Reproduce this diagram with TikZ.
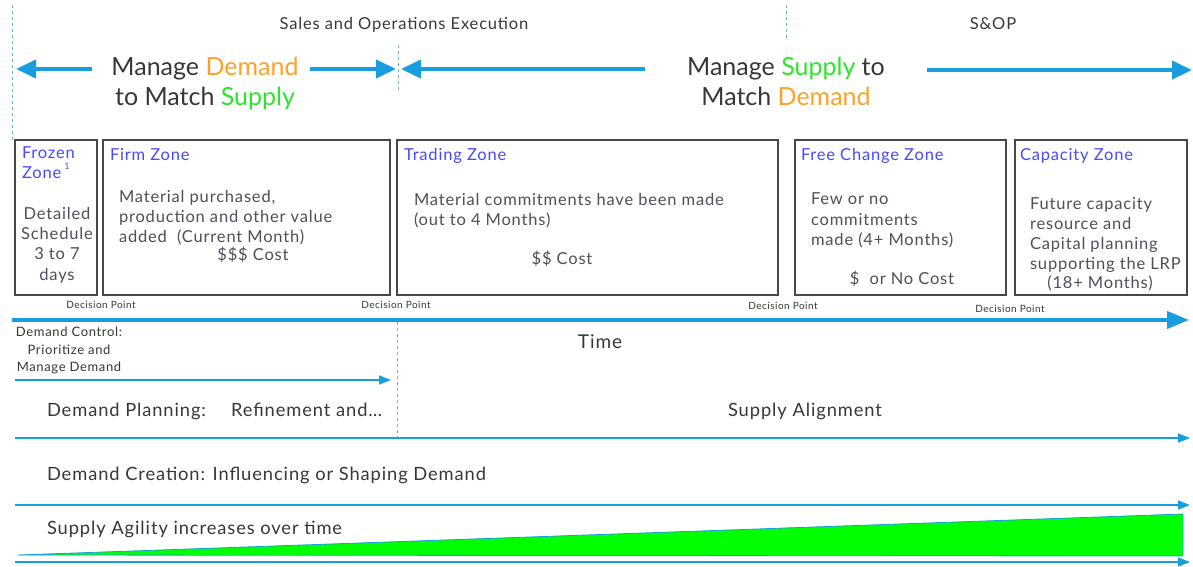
\documentclass[tikz,border=0pt]{standalone}
\usepackage{fontspec}
\setmainfont{Lato}[LetterSpace=5]
\newfontfamily\titlefont{Lato}
\usetikzlibrary{arrows.meta}

\definecolor{arrowblue}{RGB}{24,157,222}
\definecolor{dashblue}{RGB}{95,182,235}
\definecolor{zoneblue}{RGB}{72,72,255}
\definecolor{bodygray}{RGB}{78,78,92}
\definecolor{textgray}{RGB}{55,55,55}
\definecolor{demandorange}{RGB}{255,160,40}
\definecolor{supplygreen}{RGB}{45,228,45}
\definecolor{agilitygreen}{RGB}{0,255,0}
\definecolor{boxgray}{RGB}{72,72,72}

\begin{document}
\begin{tikzpicture}[x=1pt,y=-1pt,
  every node/.style={inner sep=0pt, outer sep=0pt},
  guide/.style={draw=dashblue, line width=1pt, dash pattern=on 3pt off 3pt},
  bigarrow/.style={draw=arrowblue, line width=4pt, -{Triangle[length=20pt,width=18pt]}},
  thinarrow/.style={draw=arrowblue, line width=1.6pt, -{Triangle[length=12pt,width=9pt]}},
  zonebox/.style={draw=boxgray, line width=1.6pt, anchor=north west},
  zonetitle/.style={text=zoneblue, font=\fontsize{16.5}{20}\selectfont, anchor=mid west},
  zonebody/.style={text=bodygray, font=\fontsize{16.5}{20.3}\selectfont},
  headtext/.style={text=textgray, font=\fontsize{16.5}{18}\selectfont, anchor=mid},
  bigtitle/.style={text=textgray, font=\titlefont\fontsize{25}{30}\selectfont, align=center, anchor=north},
  decision/.style={text=textgray, font=\fontsize{10}{10}\selectfont, anchor=mid},
  lanetext/.style={text=textgray, font=\fontsize{18.3}{20}\selectfont, anchor=mid west},
]
\useasboundingbox (0,0) rectangle (1193,567);

% vertical dashed guides
\coordinate (g1a) at (12,5);    \coordinate (g1b) at (12,140);
\coordinate (g2a) at (398,45);  \coordinate (g2b) at (398,90);
\coordinate (g3a) at (786,5);   \coordinate (g3b) at (786,38);
\coordinate (g4a) at (397,322); \coordinate (g4b) at (397,442);
\draw[guide] (g1a) -- (g1b);
\draw[guide] (g2a) -- (g2b);
\draw[guide] (g3a) -- (g3b);
\draw[guide] (g4a) -- (g4b);

% headings
\node[headtext] (soe) at (404,27) {Sales and Operations Execution};
\node[headtext] (sop) at (993,27) {S\&OP};

% manage demand / manage supply banners
\node[bigtitle] (mdtitle) at (205,57) {Manage \textcolor{demandorange}{Demand}\\to Match \textcolor{supplygreen}{Supply}};
\node[bigtitle] (mstitle) at (786,57) {Manage \textcolor{supplygreen}{Supply} to\\Match \textcolor{demandorange}{Demand}};

\coordinate (a1s) at (92,69);   \coordinate (a1e) at (16,69);
\coordinate (a2s) at (310,69);  \coordinate (a2e) at (396,69);
\coordinate (a3s) at (645,69);  \coordinate (a3e) at (401,69);
\coordinate (a4s) at (927,70);  \coordinate (a4e) at (1192,70);
\draw[bigarrow] (a1s) -- (a1e);
\draw[bigarrow] (a2s) -- (a2e);
\draw[bigarrow] (a3s) -- (a3e);
\draw[bigarrow] (a4s) -- (a4e);

% zones
\node[zonebox, minimum width=82pt,  minimum height=155pt] (frozen)   at (15,140)   {};
\node[zonebox, minimum width=287pt, minimum height=155pt] (firm)     at (103,140)  {};
\node[zonebox, minimum width=381pt, minimum height=155pt] (trading)  at (397,140)  {};
\node[zonebox, minimum width=211pt, minimum height=155pt] (free)     at (795,140)  {};
\node[zonebox, minimum width=172pt, minimum height=155pt] (capacity) at (1015,140) {};

\node[zonetitle] (frozenT1) at (22,156) {Frozen};
\node[zonetitle] (frozenT2) at (22,176) {Zone\raisebox{9pt}{\fontsize{9}{9}\selectfont\,\,1}};
\node[zonebody, align=center, anchor=north] (frozenB) at (57,207) {Detailed\\Schedule\\3 to 7\\days};

\node[zonetitle] (firmT) at (110,158) {Firm Zone};
\node[zonebody, align=left, anchor=north west] (firmB) at (119,190) {Material purchased,\\production and other value\\added\ \ (Current Month)};
\node[zonebody, anchor=mid] (firmC) at (253,258) {\$\$\$ Cost};

\node[zonetitle] (tradingT) at (404,158) {Trading Zone};
\node[zonebody, align=left, anchor=north west] (tradingB) at (414,193) {Material commitments have been made\\(out to 4 Months)};
\node[zonebody, anchor=mid] (tradingC) at (562,262) {\$\$ Cost};

\node[zonetitle] (freeT) at (801,158) {Free Change Zone};
\node[zonebody, align=left, anchor=north west] (freeB) at (811,193) {Few or no\\commitments\\made (4+ Months)};
\node[zonebody, anchor=mid] (freeC) at (902,282) {\$\ \ or No Cost};

\node[zonetitle] (capacityT) at (1020,158) {Capacity Zone};
\node[zonebody, align=left, anchor=north west] (capacityB) at (1030,197) {Future capacity\\resource and\\Capital planning\\supporting the LRP};
\node[zonebody, anchor=mid] (capacityM) at (1100,286) {(18+ Months)};

% decision points
\node[decision] (dp1) at (101,306) {Decision Point};
\node[decision] (dp2) at (396,306) {Decision Point};
\node[decision] (dp3) at (783,307) {Decision Point};
\node[decision] (dp4) at (1010,310) {Decision Point};

% time axis
\coordinate (ts) at (12,320); \coordinate (te) at (1189,320);
\draw[draw=arrowblue, line width=4pt, -{Triangle[length=22pt,width=17pt]}] (ts) -- (te);
\node[text=textgray, font=\fontsize{19}{20}\selectfont, anchor=mid] (time) at (600,346) {Time};

% lanes
\node[text=textgray, font=\fontsize{13}{17.5}\selectfont, align=center, anchor=north] (dctl) at (69,327) {Demand Control:\\Prioritize and\\Manage Demand};
\coordinate (l1s) at (15,380); \coordinate (l1e) at (391,380);
\draw[thinarrow] (l1s) -- (l1e);

\node[lanetext] (dplan) at (47,414) {Demand Planning:\hspace{25pt}Refinement and\dots};
\node[lanetext, anchor=mid] (salign) at (805,414) {Supply Alignment};
\coordinate (l2s) at (15,438); \coordinate (l2e) at (1190,438);
\draw[thinarrow] (l2s) -- (l2e);

\node[lanetext] (dcreate) at (47,478) {Demand Creation: Influencing or Shaping Demand};
\coordinate (l3s) at (15,505); \coordinate (l3e) at (1190,505);
\draw[thinarrow] (l3s) -- (l3e);

\node[lanetext] (agility) at (47,532) {Supply Agility increases over time};
\coordinate (w1) at (18,555); \coordinate (w2) at (1183,514); \coordinate (w3) at (1183,556);
\filldraw[fill=agilitygreen, draw=arrowblue, line width=0.8pt] (w1) -- (w2) -- (w3) -- cycle;
\coordinate (l4s) at (15,562); \coordinate (l4e) at (1190,562);
\draw[thinarrow] (l4s) -- (l4e);

\end{tikzpicture}
\end{document}
